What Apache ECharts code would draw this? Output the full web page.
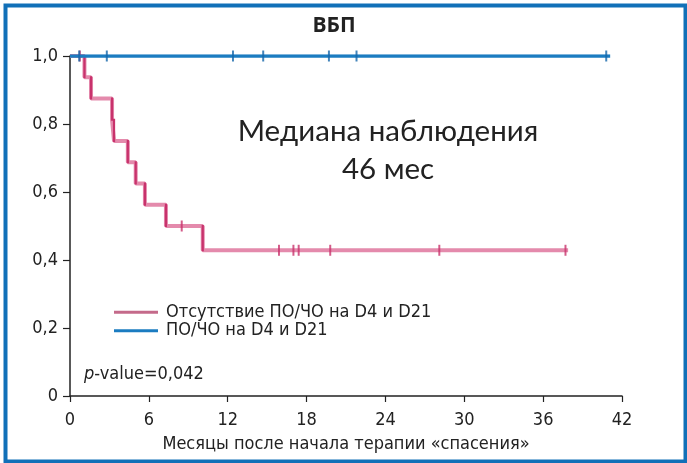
<!DOCTYPE html>
<html><head><meta charset="utf-8">
<script src="https://cdn.jsdelivr.net/npm/echarts@6/dist/echarts.min.js"></script>
<style>html,body{margin:0;padding:0;background:#fff}#c{width:687px;height:463px}</style>
</head><body><div id="c"></div>
<script>
// Kaplan–Meier step data (months, survival)
const redTimes = [0, 1.1, 1.6, 3.2, 3.35, 4.4, 5.0, 5.7, 7.3, 10.1, 37.9];
const redSurv  = [1, 0.9375, 0.875, 0.8125, 0.75, 0.6875, 0.625, 0.5625, 0.5, 0.4286, 0.4286];
const redCensorTimes = [0.75, 8.5, 15.9, 17.0, 17.4, 19.8, 28.1, 37.7];
const redCensorSurv  = [1, 0.5, 0.4286, 0.4286, 0.4286, 0.4286, 0.4286, 0.4286];
const blueTimes = [0, 41.1];
const blueSurv  = [1, 1];
const blueCensorTimes = [0.7, 2.8, 12.4, 14.7, 19.7, 21.8, 40.8];
const blueCensorSurv  = [1, 1, 1, 1, 1, 1, 1];
const seriesNames = ['Отсутствие ПО/ЧО на D4 и D21', 'ПО/ЧО на D4 и D21'];
const xTicks = [0, 6, 12, 18, 24, 30, 36, 42];

const NARROW = "'Liberation Sans Narrow','DejaVu Sans Condensed',sans-serif";
const RED = '#e48aac', RED_D = '#c8326c', BLUE = '#1b7cc1', BLUE_D = '#1466aa';

const zip = (a, b) => a.map((v, i) => [v, b[i]]);
const redDrops = [];
for (let i = 1; i < redTimes.length; i++) {
  if (redSurv[i] !== redSurv[i - 1]) redDrops.push([redTimes[i], redSurv[i - 1], redSurv[i]]);
}

const chart = echarts.init(document.getElementById('c'), null, {renderer: 'canvas'});
chart.setOption({
  animation: false,
  grid: {left: 70, right: 65, top: 56, bottom: 67},
  legend: {
    left: 114, top: 303, padding: 0, orient: 'vertical', itemWidth: 44, itemHeight: 3, itemGap: 0,
    icon: 'rect',
    textStyle: {fontFamily: NARROW, fontSize: 18, color: '#222', padding: [0, 0, 0, 3], lineHeight: 18.5},
    data: [{name: seriesNames[0], itemStyle: {color: '#c46a8a'}}, {name: seriesNames[1], itemStyle: {color: BLUE}}]
  },
  xAxis: {
    type: 'value', min: 0, max: 42, interval: 6,
    name: 'Месяцы после начала терапии «спасения»', nameLocation: 'middle', nameGap: 39,
    nameTextStyle: {fontFamily: NARROW, fontSize: 18, color: '#222'},
    axisLine: {lineStyle: {color: '#222', width: 1.5}},
    axisTick: {show: true, length: 6, lineStyle: {color: '#222', width: 1.2}},
    axisLabel: {fontFamily: NARROW, fontSize: 18, color: '#222', margin: 15,
      customValues: xTicks},
    splitLine: {show: false}
  },
  yAxis: {
    type: 'value', min: 0, max: 1, interval: 0.2,
    axisLine: {show: true, lineStyle: {color: '#222', width: 1.5}},
    axisTick: {show: true, length: 7, lineStyle: {color: '#222', width: 1.2}},
    axisLabel: {fontFamily: NARROW, fontSize: 18, color: '#222', margin: 12,
      formatter: v => v === 0 ? '0' : v.toFixed(1).replace('.', ',')},
    splitLine: {show: false}
  },
  series: [
    {name: seriesNames[0], type: 'line', step: 'end', data: zip(redTimes, redSurv),
      showSymbol: false, lineStyle: {color: RED, width: 4}, itemStyle: {color: RED}, z: 2},
    {name: seriesNames[0] + '_drops', type: 'custom', data: redDrops, z: 3, silent: true,
      renderItem: (params, api) => {
        const a = api.coord([api.value(0), api.value(1)]);
        const b = api.coord([api.value(0), api.value(2)]);
        return {type: 'line', shape: {x1: a[0], y1: a[1] - 1, x2: b[0], y2: b[1] + 1},
          style: {stroke: RED_D, lineWidth: 2.2}};
      }},
    {name: 'redCensor', type: 'scatter', data: zip(redCensorTimes, redCensorSurv),
      symbol: 'rect', symbolSize: [2, 11], itemStyle: {color: RED_D}, z: 3, silent: true},
    {name: seriesNames[1], type: 'line', data: zip(blueTimes, blueSurv),
      showSymbol: false, lineStyle: {color: BLUE, width: 3.5}, itemStyle: {color: BLUE}, z: 4},
    {name: 'blueCensor', type: 'scatter', data: zip(blueCensorTimes, blueCensorSurv),
      symbol: 'rect', symbolSize: [2, 11], itemStyle: {color: BLUE_D}, z: 5, silent: true}
  ],
  graphic: [
    {type: 'rect', left: 3, top: 3, shape: {width: 680, height: 456},
      style: {fill: 'none', stroke: '#1170b8', lineWidth: 4}, silent: true},
    {type: 'text', x: 334, y: 26, style: {text: 'ВБП', align: 'center', verticalAlign: 'middle',
      font: "bold 21px 'Open Sans', sans-serif", fill: '#222'}},
    {type: 'text', x: 388, y: 131, style: {text: 'Медиана наблюдения', align: 'center', verticalAlign: 'middle',
      font: "29.5px Lato, sans-serif", fill: '#222'}},
    {type: 'text', x: 388, y: 169, style: {text: '46 мес', align: 'center', verticalAlign: 'middle',
      font: "29.5px Lato, sans-serif", fill: '#222'}},
    {type: 'text', x: 84, y: 374, style: {
      text: '{i|p}{n|-value=0,042}', verticalAlign: 'middle',
      rich: {i: {fontFamily: NARROW, fontStyle: 'italic', fontSize: 18, fill: '#222'},
             n: {fontFamily: NARROW, fontSize: 18, fill: '#222'}}}}
  ]
});
</script></body></html>
